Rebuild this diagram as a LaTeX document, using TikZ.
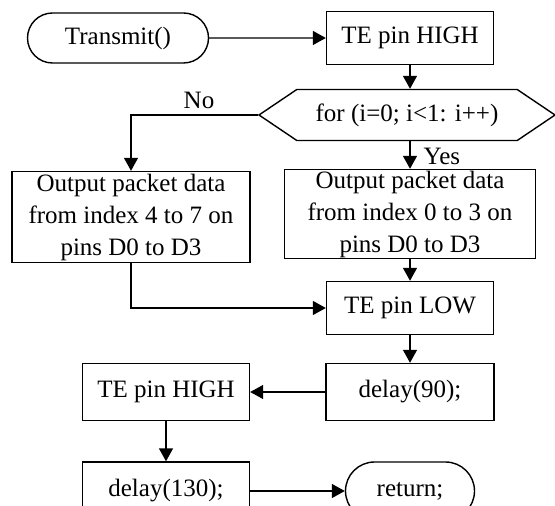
\documentclass[tikz,border=0pt]{standalone}
\usepackage{fontspec}
\setmainfont{Liberation Serif}
\usetikzlibrary{arrows.meta,shapes.misc,shapes.symbols}

\begin{document}
\begin{tikzpicture}[x=0.5pt, y=-0.5pt, line width=0.7pt,
    font=\fontsize{12.5}{16}\selectfont,
    box/.style={draw, rectangle, inner sep=0pt, align=center},
    term/.style={draw, rounded rectangle, inner sep=0pt},
    arr/.style={-{Triangle[length=6.5pt, width=7pt]}}]
    \clip (0, 0) rectangle (555, 506);

    \node[term, minimum width=90.5pt, minimum height=25pt] (start) at (118, 38) {Transmit()};
    \node[box, minimum width=83.5pt, minimum height=26.5pt] (high) at (410, 38) {TE pin HIGH};
    \node[draw, signal, signal to=east and west, signal pointer angle=68, inner sep=0pt,
        minimum width=148pt, minimum height=25.5pt] (loop) at (407, 115) {for (i=0; i<1: i++)};
    \node[box, minimum width=119pt, minimum height=45.5pt] (left) at (131, 217)
        {Output packet data\\from index 4 to 7 on\\pins D0 to D3};
    \node[box, minimum width=125.5pt, minimum height=44.5pt] (right) at (410, 214)
        {Output packet data\\from index 0 to 3 on\\pins D0 to D3};
    \node[box, minimum width=83.5pt, minimum height=26.5pt] (low) at (410, 308) {TE pin LOW};
    \node[box, minimum width=84pt, minimum height=28.5pt] (d90) at (410, 392) {delay(90);};
    \node[box, minimum width=83.5pt, minimum height=28.5pt] (high2) at (166, 392) {TE pin HIGH};
    \node[box, minimum width=83.5pt, minimum height=29pt] (d130) at (166, 491) {delay(130);};
    \node[term, minimum width=64.5pt, minimum height=29pt] (ret) at (410, 491) {return;};

    \node (no) at (199, 100) {No};
    \node[anchor=west, inner sep=0pt] (yes) at (423, 156) {Yes};

    \draw[arr] (start) -- (high);
    \draw[arr] (high) -- (high.south |- loop.north);
    \draw[arr] (loop.south -| right.north) -- (right);
    \draw[arr] (loop.west) -| (left.north);
    \draw[arr] (right) -- (low);
    \draw[arr] (left.south) |- (low.west);
    \draw[arr] (low) -- (d90);
    \draw[arr] (d90) -- (high2);
    \draw[arr] (high2) -- (d130);
    \draw[arr] (d130) -- (ret);
\end{tikzpicture}
\end{document}
